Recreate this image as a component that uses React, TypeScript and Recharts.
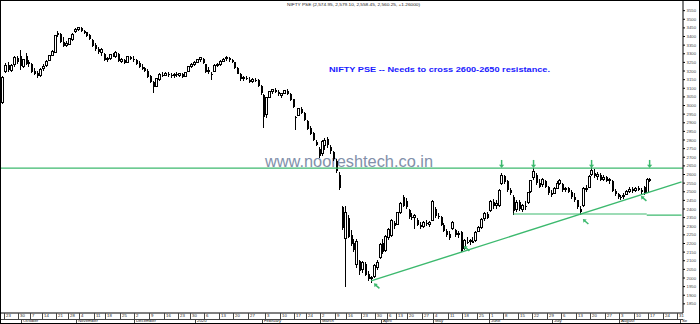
import { Bar, ComposedChart, ReferenceDot, ReferenceLine, XAxis, YAxis } from "recharts";

const FONT = "'Liberation Sans', Arial, sans-serif";
const GREEN = "#3cb96e";

// trading calendar (NSE)
const FIRST_DAY = "2019-09-20";
const LAST_DAY = "2020-09-01";
const HOLIDAYS = [
  "2019-10-02", "2019-10-08", "2019-10-21", "2019-10-28", "2019-11-12", "2019-12-25",
  "2020-02-21", "2020-03-10", "2020-04-02", "2020-04-06", "2020-04-10", "2020-04-14",
  "2020-05-01", "2020-05-25",
];
const SPECIAL_SESSIONS = ["2020-02-01"];

// [open, high, low, close] per session
const SEP_2019 = [
  [3020, 3170, 3010, 3160], [3200, 3245, 3190, 3232], [3235, 3250, 3195, 3205], [3205, 3240, 3195, 3232],
  [3235, 3290, 3225, 3280], [3275, 3285, 3240, 3250], [3290, 3322, 3206, 3230],
];
const OCT_2019 = [
  [3228, 3270, 3220, 3265], [3290, 3305, 3235, 3240], [3245, 3262, 3225, 3250], [3240, 3245, 3190, 3195],
  [3200, 3215, 3175, 3185], [3190, 3200, 3162, 3170], [3172, 3215, 3165, 3210], [3212, 3240, 3200, 3225],
  [3230, 3262, 3225, 3258], [3262, 3292, 3258, 3288], [3290, 3322, 3285, 3315], [3310, 3410, 3305, 3405],
  [3420, 3432, 3395, 3410], [3415, 3420, 3360, 3368], [3370, 3395, 3338, 3345], [3348, 3372, 3340, 3362],
  [3355, 3392, 3348, 3388], [3385, 3418, 3375, 3412], [3428, 3448, 3422, 3440],
];
const NOV_2019 = [
  [3440, 3458, 3432, 3450], [3448, 3455, 3425, 3432], [3432, 3440, 3412, 3420], [3425, 3428, 3395, 3402],
  [3410, 3415, 3378, 3385], [3380, 3385, 3340, 3345], [3350, 3362, 3318, 3325], [3330, 3342, 3300, 3310],
  [3310, 3332, 3290, 3322], [3300, 3305, 3258, 3265], [3268, 3282, 3252, 3275], [3272, 3300, 3265, 3295],
  [3292, 3305, 3282, 3290], [3285, 3315, 3278, 3310], [3300, 3302, 3250, 3258], [3258, 3275, 3245, 3268],
  [3265, 3272, 3238, 3245], [3250, 3288, 3245, 3282], [3282, 3290, 3262, 3270], [3272, 3285, 3255, 3262],
];
const DEC_2019 = [
  [3262, 3272, 3235, 3242], [3245, 3256, 3218, 3225], [3225, 3238, 3205, 3212], [3215, 3222, 3192, 3198],
  [3200, 3210, 3162, 3168], [3170, 3178, 3128, 3135], [3135, 3142, 3073, 3105], [3110, 3160, 3105, 3155],
  [3150, 3188, 3140, 3180], [3178, 3192, 3165, 3172], [3175, 3196, 3170, 3188], [3185, 3194, 3168, 3178],
  [3178, 3190, 3162, 3172], [3172, 3188, 3160, 3180], [3182, 3196, 3168, 3175], [3176, 3190, 3165, 3184],
  [3182, 3188, 3160, 3168], [3170, 3196, 3165, 3190], [3195, 3232, 3192, 3228], [3228, 3245, 3215, 3240],
  [3238, 3258, 3230, 3252],
];
const JAN_2020 = [
  [3252, 3272, 3248, 3266], [3268, 3282, 3255, 3278], [3270, 3275, 3238, 3245], [3240, 3242, 3188, 3195],
  [3200, 3222, 3185, 3205], [3185, 3195, 3150, 3175], [3200, 3238, 3198, 3232], [3232, 3248, 3222, 3238],
  [3238, 3262, 3232, 3258], [3258, 3275, 3250, 3268], [3270, 3285, 3258, 3276], [3274, 3282, 3255, 3262],
  [3262, 3270, 3245, 3250], [3250, 3252, 3212, 3218], [3218, 3222, 3180, 3185], [3182, 3188, 3145, 3152],
  [3155, 3172, 3140, 3162], [3160, 3170, 3148, 3155], [3150, 3165, 3128, 3135], [3138, 3160, 3130, 3150],
  [3148, 3162, 3138, 3142], [3148, 3152, 3108, 3115], [3112, 3118, 3062, 3070],
];
const FEB_2020 = [
  [3060, 3068, 2870, 2935], [2950, 3050, 2930, 3045], [3048, 3085, 3042, 3080], [3082, 3098, 3065, 3090],
  [3090, 3100, 3070, 3078], [3078, 3090, 3055, 3065], [3060, 3075, 3045, 3070], [3072, 3092, 3065, 3085],
  [3085, 3098, 3060, 3068], [3065, 3070, 3025, 3032], [3035, 3040, 2985, 2992], [2935, 2942, 2860, 2930],
  [2945, 2988, 2940, 2982], [2980, 2990, 2950, 2958], [2955, 2960, 2912, 2918], [2912, 2915, 2858, 2865],
  [2870, 2880, 2828, 2835], [2838, 2845, 2795, 2802], [2790, 2800, 2765, 2772], [2745, 2760, 2695, 2705],
];
const MAR_2020 = [
  [2720, 2800, 2705, 2790], [2770, 2810, 2740, 2800], [2805, 2815, 2755, 2770], [2760, 2770, 2720, 2735],
  [2730, 2738, 2680, 2690], [2680, 2690, 2610, 2620], [2600, 2612, 2510, 2520], [2410, 2420, 2280, 2290],
  [2230, 2420, 1950, 2380], [2350, 2365, 2230, 2240], [2250, 2280, 2185, 2195], [2200, 2225, 2150, 2160],
  [2080, 2225, 2060, 2210], [2100, 2105, 2020, 2040], [2050, 2100, 2030, 2090], [2080, 2090, 2010, 2020],
  [2025, 2040, 1985, 1995], [1995, 2010, 1972, 2005], [2010, 2080, 2000, 2072], [2060, 2102, 2045, 2092],
  [2120, 2205, 2110, 2195],
];
const APR_2020 = [
  [2205, 2225, 2140, 2150], [2160, 2250, 2150, 2242], [2232, 2290, 2222, 2282], [2245, 2340, 2235, 2332],
  [2318, 2332, 2282, 2300], [2310, 2385, 2305, 2378], [2380, 2440, 2370, 2432], [2468, 2480, 2410, 2420],
  [2448, 2462, 2400, 2410], [2392, 2402, 2340, 2352], [2352, 2378, 2335, 2345], [2348, 2372, 2285, 2362],
  [2335, 2345, 2300, 2310], [2310, 2322, 2285, 2295], [2300, 2330, 2290, 2322], [2320, 2335, 2300, 2312],
  [2312, 2330, 2298, 2320], [2335, 2452, 2330, 2442],
];
const MAY_2020 = [
  [2400, 2410, 2345, 2360], [2360, 2375, 2340, 2355], [2355, 2360, 2300, 2310], [2310, 2318, 2265, 2272],
  [2275, 2285, 2240, 2250], [2255, 2270, 2220, 2232], [2285, 2332, 2280, 2322], [2280, 2285, 2240, 2250],
  [2255, 2270, 2230, 2260], [2265, 2270, 2150, 2155], [2170, 2225, 2160, 2215], [2210, 2235, 2195, 2205],
  [2210, 2225, 2190, 2220], [2215, 2240, 2200, 2205], [2215, 2270, 2210, 2265], [2270, 2300, 2265, 2295],
  [2290, 2345, 2285, 2340], [2345, 2380, 2330, 2372], [2370, 2385, 2340, 2350],
];
const JUN_2020 = [
  [2390, 2450, 2385, 2442], [2440, 2460, 2400, 2420], [2420, 2450, 2400, 2432], [2420, 2515, 2410, 2505],
  [2550, 2610, 2540, 2595], [2590, 2600, 2545, 2555], [2560, 2570, 2500, 2510], [2510, 2520, 2480, 2490],
  [2470, 2480, 2365, 2390], [2400, 2450, 2380, 2440], [2440, 2455, 2390, 2400], [2400, 2430, 2380, 2420],
  [2420, 2445, 2395, 2410], [2440, 2500, 2430, 2495], [2500, 2570, 2495, 2565], [2580, 2640, 2570, 2620],
  [2600, 2610, 2540, 2550], [2550, 2575, 2520, 2530], [2540, 2580, 2530, 2570], [2560, 2570, 2520, 2530],
  [2525, 2535, 2480, 2495], [2490, 2510, 2470, 2480],
];
const JUL_2020 = [
  [2490, 2530, 2485, 2520], [2520, 2560, 2515, 2550], [2550, 2575, 2540, 2565], [2545, 2550, 2500, 2510],
  [2515, 2530, 2500, 2520], [2520, 2525, 2490, 2500], [2500, 2510, 2460, 2470], [2470, 2490, 2440, 2450],
  [2450, 2455, 2400, 2410], [2400, 2420, 2365, 2380], [2420, 2530, 2410, 2520], [2515, 2540, 2500, 2520],
  [2525, 2600, 2520, 2590], [2600, 2645, 2590, 2625], [2610, 2630, 2580, 2590], [2590, 2615, 2570, 2600],
  [2600, 2610, 2560, 2570], [2570, 2595, 2560, 2585], [2585, 2590, 2555, 2565], [2565, 2580, 2545, 2570],
  [2565, 2570, 2500, 2505], [2505, 2515, 2475, 2485], [2485, 2495, 2460, 2470],
];
const AUG_2020 = [
  [2470, 2480, 2455, 2465], [2470, 2490, 2460, 2480], [2485, 2510, 2480, 2500], [2500, 2525, 2495, 2515],
  [2515, 2525, 2495, 2505], [2505, 2530, 2500, 2520], [2520, 2535, 2505, 2510], [2510, 2520, 2480, 2500],
  [2530, 2535, 2480, 2490], [2495, 2580, 2490, 2570], [2574.95, 2579.1, 2558.45, 2560.25],
];

const Y_TICKS = [
  1850, 1900, 1950, 2000, 2050, 2100, 2150, 2200, 2250, 2300, 2350, 2400, 2450, 2500, 2550, 2600, 2650, 2700,
  2750, 2800, 2850, 2900, 2950, 3000, 3050, 3100, 3150, 3200, 3250, 3300, 3350, 3400, 3450, 3500, 3550,
];
const MONTH_LABELS = [
  "2020", "February", "March", "April", "May", "June", "July", "August", "September", "October", "November", "December",
];

const TITLE = "NIFTY PSE (2,574.95, 2,579.10, 2,558.45, 2,560.25, +1.26000)";
const NOTE = "NIFTY PSE -- Needs to cross 2600-2650 resistance.";
const SITE = "www.nooreshtech.co.in";

// drawn levels
const RESISTANCE = 2637;
const SUPPORT_A: [string, number][] = [["2020-06-11", 2371], ["2020-08-14", 2371]];
const SUPPORT_B: [string, number][] = [["2020-08-14", 2365], ["2020-09-01", 2365]];
const TREND: [string, number][] = [["2020-03-26", 1983], ["2020-09-01", 2557]];
const DOWN_ARROWS: [string, number][] = [
  ["2020-06-05", 2638], ["2020-06-22", 2638], ["2020-07-20", 2638], ["2020-08-17", 2638],
];
const UP_ARROWS: [string, number][] = [
  ["2020-03-27", 1969], ["2020-05-18", 2186], ["2020-07-15", 2342], ["2020-08-12", 2476],
];

const CANDLES_BY_MONTH: Record<string, number[][]> = {
  "2019-09": SEP_2019, "2019-10": OCT_2019, "2019-11": NOV_2019, "2019-12": DEC_2019,
  "2020-01": JAN_2020, "2020-02": FEB_2020, "2020-03": MAR_2020, "2020-04": APR_2020,
  "2020-05": MAY_2020, "2020-06": JUN_2020, "2020-07": JUL_2020, "2020-08": AUG_2020,
};

const DAY_MS = 86400000;

function tradingDays() {
  const out: string[] = [];
  const end = new Date(LAST_DAY + "T00:00:00Z").getTime();
  for (let t = new Date(FIRST_DAY + "T00:00:00Z").getTime(); t <= end; t += DAY_MS) {
    const d = new Date(t);
    const s = d.toISOString().slice(0, 10);
    const wd = d.getUTCDay();
    if ((wd !== 0 && wd !== 6 && !HOLIDAYS.includes(s)) || SPECIAL_SESSIONS.includes(s)) out.push(s);
  }
  return out;
}

const DATES = tradingDays();

const seen: Record<string, number> = {};
const rows = DATES.map((date) => {
  const key = date.slice(0, 7);
  const k = seen[key] ?? 0;
  seen[key] = k + 1;
  const cd = CANDLES_BY_MONTH[key]?.[k];
  if (!cd) return { date };
  const [o, h, l, c] = cd;
  return { date, o, h, l, c, range: [l, h] };
});

function mondayOf(s: string) {
  const d = new Date(s + "T00:00:00Z");
  return d.getTime() - ((d.getUTCDay() + 6) % 7) * DAY_MS;
}

const tickInfo = new Map<string, { week?: string; month?: string }>();
DATES.forEach((s, i) => {
  if (i === 0) return;
  const prev = DATES[i - 1];
  const info: { week?: string; month?: string } = {};
  const mon = mondayOf(s);
  if (mon !== mondayOf(prev)) info.week = String(new Date(mon).getUTCDate());
  if (s.slice(0, 7) !== prev.slice(0, 7)) info.month = MONTH_LABELS[Number(s.slice(5, 7)) - 1];
  if (info.week || info.month) tickInfo.set(s, info);
});
const X_TICKS = [...tickInfo.keys()];

const CHART_W = 698;
const CHART_H = 322;
const AXIS_W = 16;
const STRIP_H = 10;
const PLOT_W = CHART_W - AXIS_W;
const PLOT_H = CHART_H - STRIP_H;
const ROW_Y = PLOT_H + 5.5;
const BAND = PLOT_W / DATES.length;

function Candle(props: any) {
  const { x, y, width, height, payload } = props;
  if (!payload || payload.o == null) return null;
  const { o, h, l, c } = payload;
  const top = Math.min(y, y + height);
  const span = Math.abs(height);
  const py = (v: number) => (h === l ? top : top + ((h - v) / (h - l)) * span);
  const cx = Math.round(x + width / 2);
  const yO = py(o);
  const yC = py(c);
  const bTop = Math.min(yO, yC);
  const bBot = Math.max(bTop + 1, Math.max(yO, yC));
  const up = c > o;
  return (
    <g shapeRendering="crispEdges">
      <line x1={cx + 0.5} x2={cx + 0.5} y1={top} y2={bTop} stroke="#000" />
      <line x1={cx + 0.5} x2={cx + 0.5} y1={bBot} y2={top + span} stroke="#000" />
      {up ? (
        <rect x={cx - 0.5} y={bTop} width={2} height={bBot - bTop} fill="#fff" stroke="#000" />
      ) : (
        <rect x={cx} y={bTop} width={2} height={bBot - bTop} fill="#000" />
      )}
    </g>
  );
}

function DateTick(props: any) {
  const { x, payload } = props;
  const info = tickInfo.get(payload.value);
  if (!info) return null;
  const left = Math.round(x - BAND / 2) + 0.5;
  // the last month only has room for its first letters, as in the reference
  const month = info.month && left > PLOT_W - 20 ? info.month.slice(0, 2) : info.month;
  return (
    <g fontFamily={FONT} fontSize={4.3} shapeRendering="crispEdges">
      {info.week && <line x1={left} x2={left} y1={PLOT_H} y2={ROW_Y} stroke="#444" />}
      {info.week && (
        <text x={left + 1.5} y={ROW_Y - 1.2} fill="#222">
          {info.week}
        </text>
      )}
      {month && <line x1={left} x2={left} y1={ROW_Y} y2={CHART_H} stroke="#444" />}
      {month && (
        <text x={left + 1.5} y={CHART_H - 0.8} fill="#222">
          {month}
        </text>
      )}
    </g>
  );
}

const ArrowDown = ({ cx, cy }: any) => (
  <g>
    <line x1={cx} x2={cx} y1={cy - 8} y2={cy - 2.5} stroke={GREEN} strokeWidth={1.5} />
    <path d={`M${cx - 2.6},${cy - 3.2} L${cx + 2.6},${cy - 3.2} L${cx},${cy} Z`} fill={GREEN} />
  </g>
);

const ArrowUpLeft = ({ cx, cy }: any) => (
  <g>
    <line x1={cx + 5.5} y1={cy + 5} x2={cx + 1.5} y2={cy + 1.5} stroke={GREEN} strokeWidth={1.5} />
    <path d={`M${cx},${cy} L${cx + 3.8},${cy + 0.6} L${cx + 0.6},${cy + 3.8} Z`} fill={GREEN} />
  </g>
);

export default function App() {
  return (
    <div
      style={{
        position: "relative",
        width: 700,
        height: 324,
        border: "1px solid #000",
        boxSizing: "border-box",
        background: "#fff",
        overflow: "hidden",
      }}
    >
      <style>{`body{margin:0}`}</style>
      <svg width={CHART_W} height={CHART_H} style={{ position: "absolute", left: 0, top: 0 }}>
        <text
          x={264}
          y={166}
          fontFamily={FONT}
          fontSize={16}
          fill="#8290aa"
          textLength={168}
          lengthAdjust="spacingAndGlyphs"
        >
          {SITE}
        </text>
      </svg>
      <div style={{ position: "absolute", left: 0, top: 0 }}>
        <ComposedChart width={CHART_W} height={CHART_H} data={rows} margin={{ top: 0, right: 0, bottom: 0, left: 0 }}>
          <XAxis
            dataKey="date"
            height={STRIP_H}
            ticks={X_TICKS}
            interval={0}
            tickLine={false}
            axisLine={{ stroke: "#000" }}
            tick={<DateTick />}
          />
          <YAxis
            orientation="right"
            width={AXIS_W}
            domain={[1797, 3606]}
            ticks={Y_TICKS}
            interval={0}
            allowDataOverflow
            tickSize={2}
            tickMargin={1.5}
            axisLine={{ stroke: "#000" }}
            tickLine={{ stroke: "#000" }}
            tick={{ fontSize: 4.3, fill: "#444", fontFamily: FONT }}
          />
          <ReferenceLine y={RESISTANCE} stroke={GREEN} strokeWidth={1.3} />
          <ReferenceLine
            segment={SUPPORT_A.map(([x, y]) => ({ x, y }))}
            stroke={GREEN}
            strokeWidth={1.2}
          />
          <ReferenceLine
            segment={SUPPORT_B.map(([x, y]) => ({ x, y }))}
            stroke={GREEN}
            strokeWidth={1.2}
          />
          <ReferenceLine segment={TREND.map(([x, y]) => ({ x, y }))} stroke={GREEN} strokeWidth={1.4} />
          <Bar dataKey="range" isAnimationActive={false} shape={<Candle />} />
          {DOWN_ARROWS.map(([x, y]) => (
            <ReferenceDot key={`d${x}`} x={x} y={y} ifOverflow="visible" shape={<ArrowDown />} />
          ))}
          {UP_ARROWS.map(([x, y]) => (
            <ReferenceDot key={`u${x}`} x={x} y={y} ifOverflow="visible" shape={<ArrowUpLeft />} />
          ))}
        </ComposedChart>
      </div>
      <svg
        width={CHART_W}
        height={CHART_H}
        style={{ position: "absolute", left: 0, top: 0, pointerEvents: "none" }}
      >
        <line x1={0} x2={PLOT_W} y1={ROW_Y + 0.5} y2={ROW_Y + 0.5} stroke="#444" shapeRendering="crispEdges" />
        <text
          x={286}
          y={5}
          fontFamily={FONT}
          fontSize={4.2}
          fill="#222"
          textLength={133}
          lengthAdjust="spacingAndGlyphs"
        >
          {TITLE}
        </text>
        <text
          x={328}
          y={71}
          fontFamily={FONT}
          fontSize={7.5}
          fontWeight="bold"
          fill="#1a1aff"
          textLength={221}
          lengthAdjust="spacingAndGlyphs"
        >
          {NOTE}
        </text>
      </svg>
    </div>
  );
}
